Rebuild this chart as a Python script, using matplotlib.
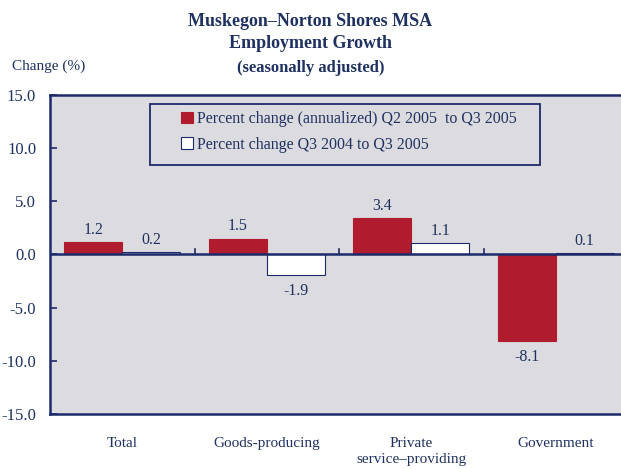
import matplotlib.pyplot as plt
import numpy as np
from matplotlib.patches import Rectangle

categories = ["Total", "Goods-producing", "Private\nservice\u2013providing", "Government"]
annualized = [1.2, 1.5, 3.4, -8.1]
yoy = [0.2, -1.9, 1.1, 0.1]
yticks = [15.0, 10.0, 5.0, 0.0, -5.0, -10.0, -15.0]

navy = "#1c2a6b"
text_c = "#1f3160"
red = "#b01c2e"
bg = "#dcdce0"

plt.rcParams["font.family"] = ["Liberation Serif", "DejaVu Serif"]

fig = plt.figure(figsize=(6.21, 4.69), dpi=100)
ax = fig.add_axes([50 / 621, 55 / 469, 578 / 621, 319 / 469])
ax.set_facecolor(bg)

x = np.arange(len(categories))
w = 0.4
b1 = ax.bar(x - w / 2, annualized, w, color=red, edgecolor=red, linewidth=0.8,
            label="Percent change (annualized) Q2 2005  to Q3 2005")
b2 = ax.bar(x + w / 2, yoy, w, color="white", edgecolor=navy, linewidth=0.8,
            label="Percent change Q3 2004 to Q3 2005")

for bars, vals in ((b1, annualized), (b2, yoy)):
    for bar, v in zip(bars, vals):
        cx = bar.get_x() + bar.get_width() / 2
        if v >= 0:
            ax.annotate(f"{v:.1f}", (cx, v), xytext=(0, 3), textcoords="offset points",
                        ha="center", va="bottom", fontsize=11.5, color=text_c)
        else:
            ax.annotate(f"{v:.1f}", (cx, v), xytext=(0, -6), textcoords="offset points",
                        ha="center", va="top", fontsize=11.5, color=text_c)

ax.axhline(0, color=navy, linewidth=1.8, zorder=3)
# small category divider ticks on the zero line
for xb in x[1:] - 0.5:
    ax.plot([xb, xb], [0, 0.5], color=navy, linewidth=1.2, zorder=3)

ax.set_xlim(-0.5, 3.5)
ax.set_ylim(-15, 15)
ax.set_yticks(yticks)
ax.set_yticklabels([f"{t:.1f}" for t in yticks], fontsize=12, color=text_c)
ax.tick_params(axis="y", direction="in", length=5, width=1.2, color=navy, pad=10)
ax.set_xticks(x)
ax.set_xticklabels(categories, fontsize=11, color=text_c, va="top", linespacing=1.35)
ax.tick_params(axis="x", length=0, pad=16.5)

for s in ["left", "top", "bottom"]:
    ax.spines[s].set_color(navy)
    ax.spines[s].set_linewidth(1.8)
ax.spines["right"].set_visible(False)

# legend box drawn separately so the entries sit inset like the original
ax.add_patch(Rectangle((100 / 578, 1 - 70 / 319), 390 / 578, 61 / 319,
                       transform=ax.transAxes, facecolor=bg, edgecolor=navy,
                       linewidth=1.3, zorder=4))
leg = ax.legend(loc="upper left", bbox_to_anchor=(131 / 578, 1 - 16 / 319), fontsize=11.5,
                frameon=False, handlelength=0.75, handleheight=0.75, handletextpad=0.25,
                borderpad=0, labelspacing=0.6, borderaxespad=0)
leg.set_zorder(5)
for t in leg.get_texts():
    t.set_color(text_c)

fig.text(0.5, 448 / 469, "Muskegon\u2013Norton Shores MSA", ha="center", va="center",
         fontsize=13, fontweight="bold", color=text_c)
fig.text(0.5, 425 / 469, "Employment Growth", ha="center", va="center",
         fontsize=13, fontweight="bold", color=text_c)
fig.text(0.5, 401 / 469, "(seasonally adjusted)", ha="center", va="center",
         fontsize=12, fontweight="bold", color=text_c)
fig.text(12 / 621, 403 / 469, "Change (%)", ha="left", va="center",
         fontsize=11, color=text_c)

fig.savefig("out.png", dpi=100)
